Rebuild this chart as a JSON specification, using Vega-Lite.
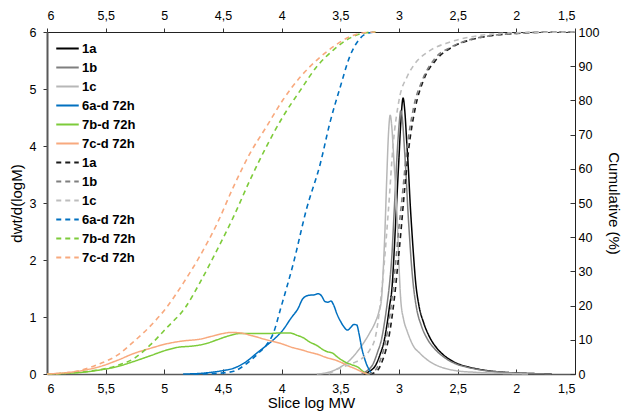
{
"$schema": "https://vega.github.io/schema/vega-lite/v6.json",
"width": 528, "height": 342,
"autosize": {"type": "none"},
"padding": {"left": 47, "top": 32, "right": 50, "bottom": 42},
"config": {
  "view": {"stroke": null},
  "font": "Liberation Sans",
  "axis": {"grid": false, "labelFont": "Liberation Sans", "labelFontSize": 12.5, "labelColor": "#000", "titleFont": "Liberation Sans", "titleFontSize": 15, "titleFontWeight": "normal", "titleColor": "#000", "tickColor": "#333", "domainColor": "#000"},
  "legend": {"orient": "none", "legendX": 12, "legendY": 8, "symbolType": "M-1.5,0H1.5", "symbolSize": 225, "symbolStrokeWidth": 1.8, "labelFont": "Liberation Sans", "labelFontSize": 13, "labelFontWeight": "bold", "labelColor": "#000", "rowPadding": 3, "labelOffset": 6}
},
"datasets": {"d": [
{"k":"1a","x":3.30,"y":0},{"k":"1a","x":3.25,"y":0.05},{"k":"1a","x":3.20,"y":0.15},{"k":"1a","x":3.16,"y":0.35},{"k":"1a","x":3.13,"y":0.55},{"k":"1a","x":3.10,"y":0.9},{"k":"1a","x":3.08,"y":1.2},{"k":"1a","x":3.06,"y":1.5},{"k":"1a","x":3.045,"y":2.0},{"k":"1a","x":3.03,"y":2.6},{"k":"1a","x":3.015,"y":3.2},{"k":"1a","x":3.0,"y":3.8},{"k":"1a","x":2.985,"y":4.4},{"k":"1a","x":2.965,"y":4.84},{"k":"1a","x":2.95,"y":4.6},{"k":"1a","x":2.935,"y":4.1},{"k":"1a","x":2.92,"y":3.6},{"k":"1a","x":2.905,"y":3.0},{"k":"1a","x":2.89,"y":2.5},{"k":"1a","x":2.875,"y":2.05},{"k":"1a","x":2.86,"y":1.65},{"k":"1a","x":2.83,"y":1.2},{"k":"1a","x":2.79,"y":0.9},{"k":"1a","x":2.74,"y":0.65},{"k":"1a","x":2.68,"y":0.46},{"k":"1a","x":2.6,"y":0.3},{"k":"1a","x":2.51,"y":0.19},{"k":"1a","x":2.4,"y":0.12},{"k":"1a","x":2.28,"y":0.07},{"k":"1a","x":2.1,"y":0.03},{"k":"1a","x":1.9,"y":0.01},{"k":"1a","x":1.7,"y":0},
{"k":"1b","x":3.32,"y":0},{"k":"1b","x":3.27,"y":0.06},{"k":"1b","x":3.22,"y":0.18},{"k":"1b","x":3.18,"y":0.4},{"k":"1b","x":3.15,"y":0.6},{"k":"1b","x":3.12,"y":0.95},{"k":"1b","x":3.10,"y":1.25},{"k":"1b","x":3.08,"y":1.6},{"k":"1b","x":3.06,"y":2.1},{"k":"1b","x":3.045,"y":2.7},{"k":"1b","x":3.03,"y":3.3},{"k":"1b","x":3.015,"y":3.9},{"k":"1b","x":3.0,"y":4.35},{"k":"1b","x":2.985,"y":4.62},{"k":"1b","x":2.97,"y":4.45},{"k":"1b","x":2.955,"y":4.0},{"k":"1b","x":2.94,"y":3.5},{"k":"1b","x":2.925,"y":2.9},{"k":"1b","x":2.91,"y":2.4},{"k":"1b","x":2.895,"y":1.95},{"k":"1b","x":2.88,"y":1.6},{"k":"1b","x":2.85,"y":1.15},{"k":"1b","x":2.81,"y":0.85},{"k":"1b","x":2.76,"y":0.62},{"k":"1b","x":2.70,"y":0.45},{"k":"1b","x":2.62,"y":0.3},{"k":"1b","x":2.53,"y":0.19},{"k":"1b","x":2.42,"y":0.12},{"k":"1b","x":2.3,"y":0.07},{"k":"1b","x":2.1,"y":0.03},{"k":"1b","x":1.9,"y":0.01},{"k":"1b","x":1.7,"y":0},
{"k":"1c","x":3.70,"y":0},{"k":"1c","x":3.6,"y":0.03},{"k":"1c","x":3.5,"y":0.12},{"k":"1c","x":3.42,"y":0.24},{"k":"1c","x":3.36,"y":0.38},{"k":"1c","x":3.30,"y":0.55},{"k":"1c","x":3.25,"y":0.72},{"k":"1c","x":3.20,"y":0.92},{"k":"1c","x":3.17,"y":1.1},{"k":"1c","x":3.15,"y":1.3},{"k":"1c","x":3.135,"y":1.8},{"k":"1c","x":3.12,"y":2.5},{"k":"1c","x":3.105,"y":3.4},{"k":"1c","x":3.09,"y":4.2},{"k":"1c","x":3.075,"y":4.54},{"k":"1c","x":3.06,"y":4.3},{"k":"1c","x":3.045,"y":3.8},{"k":"1c","x":3.03,"y":3.3},{"k":"1c","x":3.015,"y":2.7},{"k":"1c","x":3.0,"y":1.9},{"k":"1c","x":2.985,"y":1.3},{"k":"1c","x":2.96,"y":0.95},{"k":"1c","x":2.93,"y":0.75},{"k":"1c","x":2.88,"y":0.5},{"k":"1c","x":2.82,"y":0.36},{"k":"1c","x":2.74,"y":0.22},{"k":"1c","x":2.64,"y":0.12},{"k":"1c","x":2.52,"y":0.06},{"k":"1c","x":2.35,"y":0.03},{"k":"1c","x":2.1,"y":0.01},{"k":"1c","x":1.9,"y":0},
{"k":"6a-d 72h","x":4.84,"y":0},{"k":"6a-d 72h","x":4.7,"y":0.01},{"k":"6a-d 72h","x":4.6,"y":0.03},{"k":"6a-d 72h","x":4.5,"y":0.06},{"k":"6a-d 72h","x":4.41,"y":0.1},{"k":"6a-d 72h","x":4.30,"y":0.22},{"k":"6a-d 72h","x":4.21,"y":0.37},{"k":"6a-d 72h","x":4.13,"y":0.5},{"k":"6a-d 72h","x":4.06,"y":0.62},{"k":"6a-d 72h","x":3.99,"y":0.77},{"k":"6a-d 72h","x":3.92,"y":0.98},{"k":"6a-d 72h","x":3.86,"y":1.15},{"k":"6a-d 72h","x":3.82,"y":1.32},{"k":"6a-d 72h","x":3.77,"y":1.38},{"k":"6a-d 72h","x":3.72,"y":1.39},{"k":"6a-d 72h","x":3.69,"y":1.41},{"k":"6a-d 72h","x":3.66,"y":1.37},{"k":"6a-d 72h","x":3.63,"y":1.27},{"k":"6a-d 72h","x":3.605,"y":1.26},{"k":"6a-d 72h","x":3.58,"y":1.28},{"k":"6a-d 72h","x":3.555,"y":1.2},{"k":"6a-d 72h","x":3.53,"y":1.06},{"k":"6a-d 72h","x":3.50,"y":0.93},{"k":"6a-d 72h","x":3.47,"y":0.83},{"k":"6a-d 72h","x":3.44,"y":0.77},{"k":"6a-d 72h","x":3.41,"y":0.82},{"k":"6a-d 72h","x":3.385,"y":0.87},{"k":"6a-d 72h","x":3.36,"y":0.86},{"k":"6a-d 72h","x":3.34,"y":0.7},{"k":"6a-d 72h","x":3.32,"y":0.48},{"k":"6a-d 72h","x":3.28,"y":0.19},{"k":"6a-d 72h","x":3.25,"y":0.06},{"k":"6a-d 72h","x":3.23,"y":0},
{"k":"7b-d 72h","x":6.0,"y":0},{"k":"7b-d 72h","x":5.85,"y":0.01},{"k":"7b-d 72h","x":5.7,"y":0.03},{"k":"7b-d 72h","x":5.55,"y":0.07},{"k":"7b-d 72h","x":5.4,"y":0.13},{"k":"7b-d 72h","x":5.26,"y":0.22},{"k":"7b-d 72h","x":5.12,"y":0.32},{"k":"7b-d 72h","x":4.98,"y":0.42},{"k":"7b-d 72h","x":4.88,"y":0.47},{"k":"7b-d 72h","x":4.76,"y":0.49},{"k":"7b-d 72h","x":4.65,"y":0.53},{"k":"7b-d 72h","x":4.55,"y":0.6},{"k":"7b-d 72h","x":4.45,"y":0.67},{"k":"7b-d 72h","x":4.36,"y":0.71},{"k":"7b-d 72h","x":4.25,"y":0.71},{"k":"7b-d 72h","x":4.13,"y":0.71},{"k":"7b-d 72h","x":4.0,"y":0.72},{"k":"7b-d 72h","x":3.93,"y":0.72},{"k":"7b-d 72h","x":3.87,"y":0.68},{"k":"7b-d 72h","x":3.82,"y":0.64},{"k":"7b-d 72h","x":3.76,"y":0.56},{"k":"7b-d 72h","x":3.70,"y":0.5},{"k":"7b-d 72h","x":3.65,"y":0.43},{"k":"7b-d 72h","x":3.61,"y":0.39},{"k":"7b-d 72h","x":3.57,"y":0.37},{"k":"7b-d 72h","x":3.52,"y":0.29},{"k":"7b-d 72h","x":3.46,"y":0.21},{"k":"7b-d 72h","x":3.40,"y":0.16},{"k":"7b-d 72h","x":3.35,"y":0.12},{"k":"7b-d 72h","x":3.31,"y":0.05},{"k":"7b-d 72h","x":3.28,"y":0.01},{"k":"7b-d 72h","x":3.25,"y":0},
{"k":"7c-d 72h","x":6.0,"y":0},{"k":"7c-d 72h","x":5.85,"y":0.02},{"k":"7c-d 72h","x":5.7,"y":0.06},{"k":"7c-d 72h","x":5.55,"y":0.13},{"k":"7c-d 72h","x":5.4,"y":0.24},{"k":"7c-d 72h","x":5.26,"y":0.36},{"k":"7c-d 72h","x":5.12,"y":0.45},{"k":"7c-d 72h","x":4.98,"y":0.53},{"k":"7c-d 72h","x":4.84,"y":0.58},{"k":"7c-d 72h","x":4.70,"y":0.61},{"k":"7c-d 72h","x":4.6,"y":0.66},{"k":"7c-d 72h","x":4.5,"y":0.71},{"k":"7c-d 72h","x":4.43,"y":0.73},{"k":"7c-d 72h","x":4.35,"y":0.72},{"k":"7c-d 72h","x":4.25,"y":0.67},{"k":"7c-d 72h","x":4.13,"y":0.6},{"k":"7c-d 72h","x":4.0,"y":0.53},{"k":"7c-d 72h","x":3.9,"y":0.46},{"k":"7c-d 72h","x":3.84,"y":0.43},{"k":"7c-d 72h","x":3.76,"y":0.38},{"k":"7c-d 72h","x":3.7,"y":0.35},{"k":"7c-d 72h","x":3.62,"y":0.29},{"k":"7c-d 72h","x":3.55,"y":0.25},{"k":"7c-d 72h","x":3.5,"y":0.21},{"k":"7c-d 72h","x":3.43,"y":0.14},{"k":"7c-d 72h","x":3.37,"y":0.09},{"k":"7c-d 72h","x":3.32,"y":0.04},{"k":"7c-d 72h","x":3.28,"y":0.01},{"k":"7c-d 72h","x":3.25,"y":0},
{"k":"1a_c","x":3.25,"y":0},{"k":"1a_c","x":3.19,"y":0.8},{"k":"1a_c","x":3.14,"y":4},{"k":"1a_c","x":3.08,"y":12},{"k":"1a_c","x":3.04,"y":22},{"k":"1a_c","x":3.01,"y":32},{"k":"1a_c","x":2.98,"y":43},{"k":"1a_c","x":2.96,"y":51},{"k":"1a_c","x":2.92,"y":65},{"k":"1a_c","x":2.86,"y":78},{"k":"1a_c","x":2.79,"y":86},{"k":"1a_c","x":2.68,"y":92},{"k":"1a_c","x":2.54,"y":95.7},{"k":"1a_c","x":2.39,"y":97.7},{"k":"1a_c","x":2.2,"y":99},{"k":"1a_c","x":2.0,"y":99.6},{"k":"1a_c","x":1.8,"y":99.9},{"k":"1a_c","x":1.5,"y":100},
{"k":"1b_c","x":3.27,"y":0},{"k":"1b_c","x":3.21,"y":0.8},{"k":"1b_c","x":3.16,"y":4},{"k":"1b_c","x":3.10,"y":12},{"k":"1b_c","x":3.06,"y":22},{"k":"1b_c","x":3.03,"y":32},{"k":"1b_c","x":3.0,"y":43},{"k":"1b_c","x":2.975,"y":51},{"k":"1b_c","x":2.935,"y":65},{"k":"1b_c","x":2.875,"y":78},{"k":"1b_c","x":2.80,"y":86},{"k":"1b_c","x":2.70,"y":92},{"k":"1b_c","x":2.55,"y":95.7},{"k":"1b_c","x":2.40,"y":97.7},{"k":"1b_c","x":2.2,"y":99},{"k":"1b_c","x":2.0,"y":99.6},{"k":"1b_c","x":1.8,"y":99.9},{"k":"1b_c","x":1.5,"y":100},
{"k":"1c_c","x":3.60,"y":0},{"k":"1c_c","x":3.52,"y":1.5},{"k":"1c_c","x":3.39,"y":3.2},{"k":"1c_c","x":3.30,"y":5},{"k":"1c_c","x":3.25,"y":7},{"k":"1c_c","x":3.20,"y":11},{"k":"1c_c","x":3.14,"y":27},{"k":"1c_c","x":3.09,"y":48},{"k":"1c_c","x":3.05,"y":67},{"k":"1c_c","x":3.0,"y":80},{"k":"1c_c","x":2.93,"y":87},{"k":"1c_c","x":2.88,"y":90},{"k":"1c_c","x":2.74,"y":94.5},{"k":"1c_c","x":2.57,"y":97},{"k":"1c_c","x":2.4,"y":98.5},{"k":"1c_c","x":2.2,"y":99.4},{"k":"1c_c","x":2.0,"y":99.8},{"k":"1c_c","x":1.5,"y":100},
{"k":"6a-d 72h_c","x":4.75,"y":0},{"k":"6a-d 72h_c","x":4.55,"y":0.2},{"k":"6a-d 72h_c","x":4.41,"y":0.8},{"k":"6a-d 72h_c","x":4.30,"y":3},{"k":"6a-d 72h_c","x":4.20,"y":6},{"k":"6a-d 72h_c","x":4.13,"y":8.5},{"k":"6a-d 72h_c","x":4.07,"y":12},{"k":"6a-d 72h_c","x":4.01,"y":19},{"k":"6a-d 72h_c","x":3.90,"y":32.4},{"k":"6a-d 72h_c","x":3.79,"y":48},{"k":"6a-d 72h_c","x":3.67,"y":61.6},{"k":"6a-d 72h_c","x":3.59,"y":73.3},{"k":"6a-d 72h_c","x":3.50,"y":84},{"k":"6a-d 72h_c","x":3.42,"y":92.8},{"k":"6a-d 72h_c","x":3.33,"y":98.2},{"k":"6a-d 72h_c","x":3.25,"y":99.8},{"k":"6a-d 72h_c","x":3.2,"y":100},
{"k":"7b-d 72h_c","x":6.0,"y":0},{"k":"7b-d 72h_c","x":5.8,"y":0.3},{"k":"7b-d 72h_c","x":5.6,"y":1},{"k":"7b-d 72h_c","x":5.4,"y":2.5},{"k":"7b-d 72h_c","x":5.26,"y":4.5},{"k":"7b-d 72h_c","x":5.12,"y":8.5},{"k":"7b-d 72h_c","x":4.98,"y":13.5},{"k":"7b-d 72h_c","x":4.82,"y":19.5},{"k":"7b-d 72h_c","x":4.70,"y":26.5},{"k":"7b-d 72h_c","x":4.55,"y":36.3},{"k":"7b-d 72h_c","x":4.41,"y":46},{"k":"7b-d 72h_c","x":4.27,"y":56.7},{"k":"7b-d 72h_c","x":4.13,"y":66.5},{"k":"7b-d 72h_c","x":3.99,"y":75.2},{"k":"7b-d 72h_c","x":3.84,"y":83},{"k":"7b-d 72h_c","x":3.70,"y":89.9},{"k":"7b-d 72h_c","x":3.56,"y":94.7},{"k":"7b-d 72h_c","x":3.42,"y":98.2},{"k":"7b-d 72h_c","x":3.28,"y":99.8},{"k":"7b-d 72h_c","x":3.2,"y":100},
{"k":"7c-d 72h_c","x":6.0,"y":0},{"k":"7c-d 72h_c","x":5.8,"y":0.5},{"k":"7c-d 72h_c","x":5.7,"y":1.2},{"k":"7c-d 72h_c","x":5.55,"y":3},{"k":"7c-d 72h_c","x":5.4,"y":5.5},{"k":"7c-d 72h_c","x":5.26,"y":9.5},{"k":"7c-d 72h_c","x":5.12,"y":14},{"k":"7c-d 72h_c","x":4.98,"y":19.5},{"k":"7c-d 72h_c","x":4.84,"y":26.5},{"k":"7c-d 72h_c","x":4.70,"y":34.3},{"k":"7c-d 72h_c","x":4.55,"y":44},{"k":"7c-d 72h_c","x":4.41,"y":54.8},{"k":"7c-d 72h_c","x":4.27,"y":64.5},{"k":"7c-d 72h_c","x":4.13,"y":72.3},{"k":"7c-d 72h_c","x":3.99,"y":80.1},{"k":"7c-d 72h_c","x":3.84,"y":86.9},{"k":"7c-d 72h_c","x":3.70,"y":91.8},{"k":"7c-d 72h_c","x":3.56,"y":95.7},{"k":"7c-d 72h_c","x":3.42,"y":98.6},{"k":"7c-d 72h_c","x":3.30,"y":99.8},{"k":"7c-d 72h_c","x":3.2,"y":100}
]},
"data": {"name": "d"},
"layer": [
 {
  "transform": [{"filter": "indexof(datum.k,'_c') < 0"}],
  "mark": {"type": "line", "strokeWidth": 1.5, "interpolate": "monotone"},
  "encoding": {
   "x": {"field": "x", "type": "quantitative", "scale": {"domain": [6, 1.5], "nice": false, "zero": false},
         "axis": {"orient": "bottom", "values": [6,5.5,5,4.5,4,3.5,3,2.5,2,1.5], "labelExpr": "replace(toString(datum.value),'.',',')", "title": "Slice log MW", "tickSize": -5, "labelPadding": 13, "titlePadding": 1, "domainColor": "#595959", "domainWidth": 1.5}},
   "y": {"field": "y", "type": "quantitative", "scale": {"domain": [0, 6], "nice": false},
         "axis": {"orient": "left", "values": [0,1,2,3,4,5,6], "title": "dwt/d(logM)", "tickSize": 4, "labelPadding": 7, "titlePadding": 5, "domainColor": "#595959", "domainWidth": 2}},
   "color": {"field": "k", "type": "nominal",
     "legend": {"title": null, "labelExpr": "replace(datum.label,'_c','')"},
     "scale": {"domain": ["1a","1b","1c","6a-d 72h","7b-d 72h","7c-d 72h","1a_c","1b_c","1c_c","6a-d 72h_c","7b-d 72h_c","7c-d 72h_c"],
               "range": ["#000000","#7f7f7f","#b7b7b7","#0070C0","#7DCB3A","#F8A97E","#1a1a1a","#7f7f7f","#bdbdbd","#0070C0","#7DCB3A","#F8A97E"]}},
   "strokeDash": {"field": "k", "type": "nominal",
     "legend": {"title": null, "labelExpr": "replace(datum.label,'_c','')"},
     "scale": {"domain": ["1a","1b","1c","6a-d 72h","7b-d 72h","7c-d 72h","1a_c","1b_c","1c_c","6a-d 72h_c","7b-d 72h_c","7c-d 72h_c"],
               "range": [[1,0],[1,0],[1,0],[1,0],[1,0],[1,0],[5,4],[5,4],[5,4],[5,4],[5,4],[5,4]]}}
  }
 },
 {
  "transform": [{"filter": "indexof(datum.k,'_c') >= 0"}],
  "mark": {"type": "line", "strokeWidth": 1.6, "interpolate": "monotone"},
  "encoding": {
   "x": {"field": "x", "type": "quantitative",
         "axis": {"orient": "top", "values": [6,5.5,5,4.5,4,3.5,3,2.5,2,1.5], "labelExpr": "replace(toString(datum.value),'.',',')", "title": null, "tickSize": 4, "labelPadding": 6, "domainColor": "#222"}},
   "y": {"field": "y", "type": "quantitative", "scale": {"domain": [0, 100], "nice": false},
         "axis": {"orient": "right", "values": [0,10,20,30,40,50,60,70,80,90,100], "title": "Cumulative (%)", "tickSize": -5, "labelPadding": 8, "titlePadding": 7, "domainColor": "#222"}},
   "color": {"field": "k", "type": "nominal", "legend": {"title": null, "labelExpr": "replace(datum.label,'_c','')"}},
   "strokeDash": {"field": "k", "type": "nominal", "legend": {"title": null, "labelExpr": "replace(datum.label,'_c','')"}}
  }
 }
],
"resolve": {"scale": {"y": "independent"}, "axis": {"x": "independent"}}
}
